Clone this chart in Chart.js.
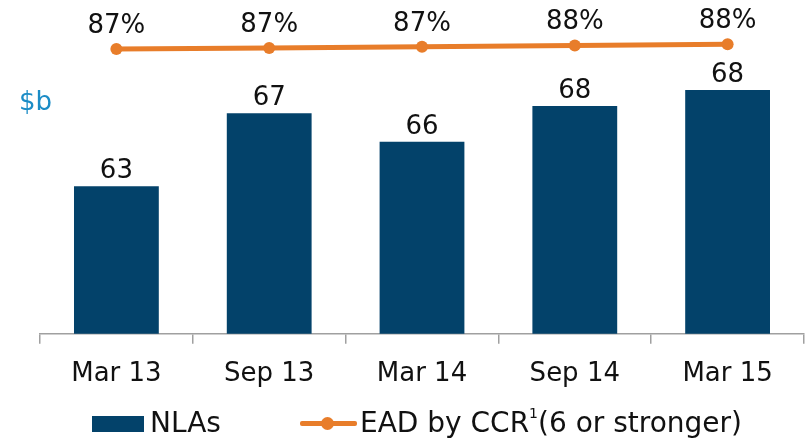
<!DOCTYPE html>
<html>
<head>
<meta charset="utf-8">
<script src="https://cdn.jsdelivr.net/npm/chart.js@4"></script>
<style>
  html, body { margin: 0; padding: 0; background: #fff; }
  #wrap { position: relative; width: 810px; height: 439px; font-family: 'DejaVu Sans', sans-serif; }
  #wrap canvas { position: absolute; left: 0; top: 0; }
  .unit { position: absolute; left: 19px; top: 88px; font-size: 26px; line-height: 26px; color: #1B8CC6; }
  .legend-text { position: absolute; top: 409px; font-size: 28px; line-height: 28px; color: #111; white-space: nowrap; }
  .legend-text sup { font-size: 14px; vertical-align: 14px; line-height: 0; }
  .legend-box { position: absolute; left: 92px; top: 416px; width: 52px; height: 16px; background: #03426A; }
  .legend-line { position: absolute; left: 300px; top: 421px; width: 57px; height: 5px; background: #E87D2A; border-radius: 2px; }
  .legend-dot { position: absolute; left: 321px; top: 417px; width: 13px; height: 13px; border-radius: 50%; background: #E87D2A; }
</style>
</head>
<body>
<div id="wrap">
  <canvas id="chart" width="810" height="439"></canvas>
  <div class="unit">$b</div>
  <div class="legend-box"></div>
  <div class="legend-text" style="left:150px">NLAs</div>
  <div class="legend-line"></div>
  <div class="legend-dot"></div>
  <div class="legend-text" style="left:360px">EAD by CCR<sup>1</sup>(6 or stronger)</div>
</div>
<script>
// ---- data ----
const periods = ['Mar 13', 'Sep 13', 'Mar 14', 'Sep 14', 'Mar 15'];
const nlaValues = [63.0, 67.1, 65.5, 67.5, 68.4];    // $b, labels show rounded
const eadShare = [87.0, 87.2, 87.4, 87.6, 87.8];     // %, labels show rounded

const NAVY = '#03426A';
const ORANGE = '#E87D2A';
const AXIS_GREY = '#A0A0A0';
const FONT = "'DejaVu Sans', sans-serif";

// value labels above bars and points
const valueLabels = {
  id: 'valueLabels',
  afterDatasetsDraw(chart) {
    const ctx = chart.ctx;
    ctx.save();
    ctx.fillStyle = '#111';
    ctx.font = '26px ' + FONT;
    ctx.textAlign = 'center';
    ctx.textBaseline = 'alphabetic';
    chart.data.datasets.forEach((ds, i) => {
      const meta = chart.getDatasetMeta(i);
      meta.data.forEach((el, j) => {
        const v = Math.round(ds.data[j]);
        if (ds.type === 'line') {
          ctx.fillText(v + '%', el.x, el.y - 16);
        } else {
          ctx.fillText(String(v), el.x, el.y - 8);
        }
      });
    });
    ctx.restore();
  }
};

new Chart(document.getElementById('chart'), {
  data: {
    labels: periods,
    datasets: [
      {
        type: 'line',
        label: 'EAD by CCR (6 or stronger)',
        data: eadShare,
        yAxisID: 'y2',
        borderColor: ORANGE,
        backgroundColor: ORANGE,
        borderWidth: 5,
        pointRadius: 6,
        pointBorderWidth: 0,
        pointBackgroundColor: ORANGE,
        tension: 0,
        order: 0
      },
      {
        type: 'bar',
        label: 'NLAs',
        data: nlaValues,
        yAxisID: 'y',
        backgroundColor: NAVY,
        borderWidth: 0,
        categoryPercentage: 1,
        barPercentage: 0.555,
        order: 1
      }
    ]
  },
  options: {
    responsive: false,
    animation: false,
    layout: { padding: { top: 10, left: 40, right: 3, bottom: 34 } },
    plugins: {
      legend: { display: false },
      tooltip: { enabled: false }
    },
    scales: {
      x: {
        grid: {
          display: true,
          drawOnChartArea: false,
          drawTicks: true,
          tickLength: 10,
          color: AXIS_GREY,
          lineWidth: 1.5
        },
        border: { display: true, color: AXIS_GREY, width: 1.5 },
        ticks: {
          color: '#111',
          font: { family: FONT, size: 26 },
          padding: 15,
          maxRotation: 0
        }
      },
      y: {
        display: false,
        min: 54.7,
        max: 72.9
      },
      y2: {
        display: false,
        min: 39.67,
        max: 93.5
      }
    }
  },
  plugins: [valueLabels]
});
</script>
</body>
</html>
